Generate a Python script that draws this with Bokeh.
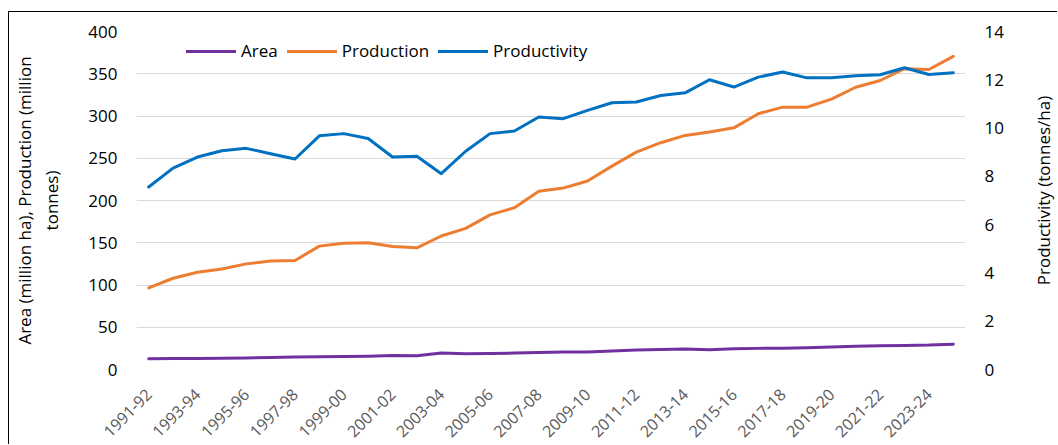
import math
from bokeh.plotting import figure
from bokeh.models import Range1d, LinearAxis, FixedTicker, Legend, LegendItem, Label
from bokeh.embed import file_html
from bokeh.resources import INLINE

seasons = ["1991-92", "1992-93", "1993-94", "1994-95", "1995-96", "1996-97",
           "1997-98", "1998-99", "1999-00", "2000-01", "2001-02", "2002-03",
           "2003-04", "2004-05", "2005-06", "2006-07", "2007-08", "2008-09",
           "2009-10", "2010-11", "2011-12", "2012-13", "2013-14", "2014-15",
           "2015-16", "2016-17", "2017-18", "2018-19", "2019-20", "2020-21",
           "2021-22", "2022-23", "2023-24", "2024-25"]

area = [12.8, 13.0, 13.1, 13.2, 13.7, 14.3, 14.8, 15.1, 15.3, 15.7,
        16.5, 16.3, 19.4, 18.5, 18.8, 19.4, 20.2, 20.7, 20.8, 21.8,
        23.2, 23.6, 24.2, 23.4, 24.5, 25.0, 25.2, 25.7, 26.5, 27.5,
        28.0, 28.5, 28.9, 30.0]

production = [96.5, 108, 115, 119, 125, 128.5, 129, 146, 149.5, 150,
              145.5, 144, 158, 167, 183, 191.5, 211, 214.7, 223, 240.7,
              257.3, 268.4, 277, 281, 286, 302.7, 310.5, 310.5, 320, 334,
              342, 356, 355, 370.5]

productivity = [7.56, 8.34, 8.80, 9.06, 9.16, 8.94, 8.72, 9.68, 9.77, 9.57,
                8.80, 8.83, 8.11, 9.04, 9.77, 9.88, 10.46, 10.39, 10.73, 11.05,
                11.08, 11.35, 11.46, 12.0, 11.70, 12.11, 12.32, 12.08, 12.08, 12.17,
                12.21, 12.5, 12.22, 12.29]

left_ticks = [0, 50, 100, 150, 200, 250, 300, 350, 400]
right_ticks = [0, 2, 4, 6, 8, 10, 12, 14]

FONT = "Open Sans"
FS = "17px"
x = list(range(len(seasons)))

p = figure(width=1049, height=433, output_backend="svg", toolbar_location=None,
           x_range=Range1d(-0.5, len(seasons) - 0.5), y_range=Range1d(0, 400),
           min_border_left=125, min_border_right=93, min_border_top=19,
           min_border_bottom=76, margin=(11, 0, 0, 8),
           styles={"border-left": "1px solid #000000",
                   "border-top": "1px solid #000000"})
p.extra_y_ranges = {"prod": Range1d(0, 14)}
p.outline_line_color = None
p.background_fill_color = "white"
p.border_fill_color = "white"

# x axis
xa = p.xaxis[0]
even = list(range(0, len(seasons), 2))
xa.ticker = FixedTicker(ticks=even)
xa.major_label_overrides = {i: seasons[i] for i in even}
xa.major_label_orientation = math.pi / 4
xa.axis_line_color = None
xa.major_tick_line_color = None
xa.minor_tick_line_color = None
xa.major_tick_out = 0
xa.major_tick_in = 0
xa.major_label_text_font = FONT
xa.major_label_text_font_size = "16px"
xa.major_label_text_color = "#595959"
xa.major_label_standoff = 22

# left axis
ya = p.yaxis[0]
ya.ticker = FixedTicker(ticks=left_ticks)
ya.axis_line_color = None
ya.major_tick_line_color = None
ya.minor_tick_line_color = None
ya.major_tick_out = 0
ya.major_tick_in = 0
ya.major_label_text_font = FONT
ya.major_label_text_font_size = FS
ya.major_label_text_color = "#000000"
ya.major_label_standoff = 19
ya.axis_label = "Area (million ha), Production (million\ntonnes)"
ya.axis_label_text_font = FONT
ya.axis_label_text_font_size = FS
ya.axis_label_text_font_style = "normal"
ya.axis_label_text_color = "#000000"
ya.axis_label_standoff = 22

# right axis (ticks and labels)
ra = LinearAxis(y_range_name="prod", ticker=FixedTicker(ticks=right_ticks))
ra.axis_line_color = None
ra.major_tick_line_color = None
ra.minor_tick_line_color = None
ra.major_tick_out = 0
ra.major_tick_in = 0
ra.major_label_text_font = FONT
ra.major_label_text_font_size = FS
ra.major_label_text_color = "#000000"
ra.major_label_standoff = 19
p.add_layout(ra, "right")

# right axis title, reading bottom to top
right_title = Label(x=37, y=179, x_units="screen", y_units="screen",
                    text="Productivity (tonnes/ha)", angle=math.pi / 2,
                    text_align="center", text_baseline="middle",
                    text_font=FONT, text_font_size=FS,
                    text_color="#000000")
p.add_layout(right_title, "right")

p.xgrid.grid_line_color = None
p.ygrid.grid_line_color = "#D9D9D9"
p.ygrid.grid_line_width = 1

r_area = p.line(x, area, line_color="#7030A0", line_width=3,
                line_cap="round", line_join="round")
r_prod = p.line(x, production, line_color="#ED7D31", line_width=3,
                line_cap="round", line_join="round")
r_pv = p.line(x, productivity, y_range_name="prod", line_color="#0070C0",
              line_width=3, line_cap="round", line_join="round")

legend = Legend(items=[LegendItem(label="Area", renderers=[r_area]),
                       LegendItem(label="Production", renderers=[r_prod]),
                       LegendItem(label="Productivity", renderers=[r_pv])],
                orientation="horizontal", location=(50, 307),
                glyph_width=50, glyph_height=20, label_standoff=5, spacing=9,
                padding=0, margin=0, border_line_color=None,
                background_fill_alpha=0,
                label_text_font=FONT, label_text_font_size=FS,
                label_text_color="#000000")
p.add_layout(legend)

open("out.html", "w").write(file_html(p, INLINE))
